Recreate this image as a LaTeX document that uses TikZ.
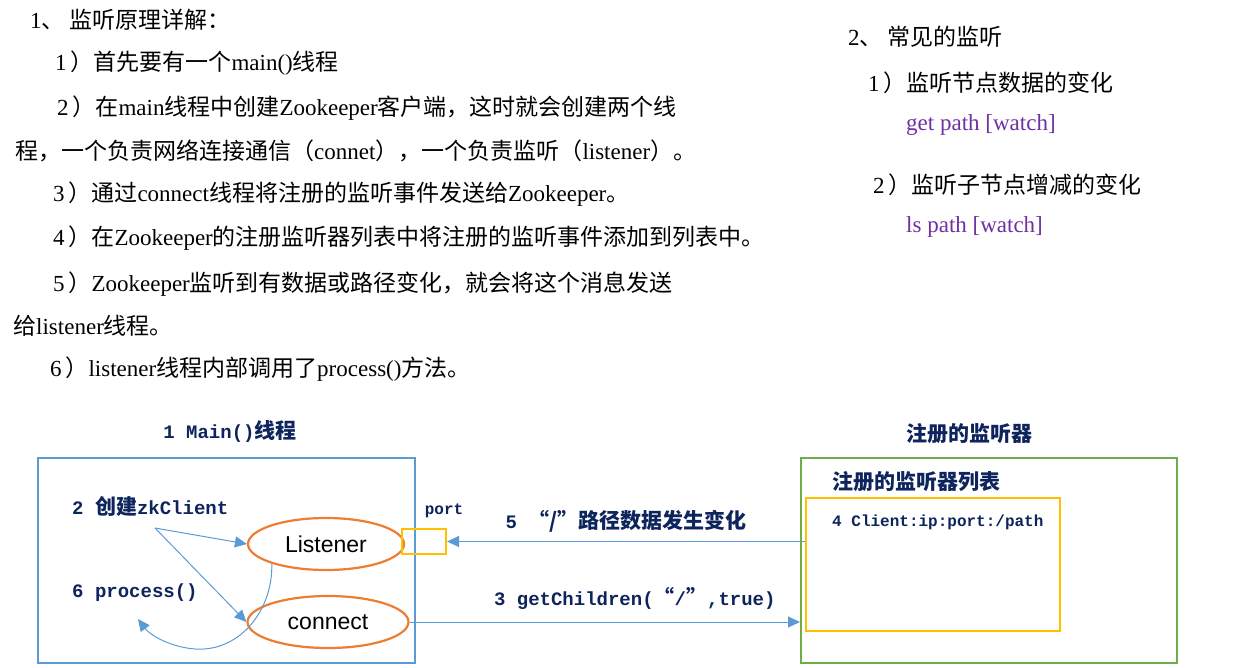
\documentclass[tikz,border=0pt]{standalone}
\usepackage{fontspec}
\setmainfont{Liberation Serif}
\newfontfamily\cjk{Noto Sans CJK SC}
\newfontfamily\monof{Liberation Mono}
\newfontfamily\arialf{Liberation Sans}
\usetikzlibrary{arrows.meta,shapes.geometric}
\definecolor{boxblue}{RGB}{91,155,213}
\definecolor{arrblue}{RGB}{91,155,213}
\definecolor{ellorange}{RGB}{237,125,49}
\definecolor{portyellow}{RGB}{255,192,0}
\definecolor{boxgreen}{RGB}{112,173,71}
\definecolor{navy}{RGB}{14,36,92}
\definecolor{purp}{RGB}{112,48,160}
\newcommand\zh[1]{{\cjk #1}}
\newcommand\dz[1]{{\cjk\bfseries\fontsize{21}{24}\selectfont #1}}
\tikzset{
  txt/.style={anchor=west, inner sep=0pt, font=\fontsize{23}{27}\selectfont},
  cmd/.style={txt, text=purp},
  dlab/.style={inner sep=0pt, text=navy, font=\monof\bfseries\fontsize{19}{22}\selectfont},
  frame/.style={draw, line width=2pt, anchor=north west, inner sep=0pt},
  oval/.style={ellipse, draw=ellorange, line width=2.2pt, inner sep=0pt,
    minimum width=156pt, minimum height=52pt, font=\arialf\fontsize{23}{27}\selectfont},
  arr/.style={draw=arrblue, line width=1pt, -{Triangle[length=12pt,width=11pt]}},
}
\begin{document}
\begin{tikzpicture}[x=1pt,y=-1pt]
\useasboundingbox (0,0) rectangle (1256,667);
% top-left text
\node[txt] (l0) at (30,20) {1\zh{、 监听原理详解：}};
\node[txt] (l1) at (55,63) {1\,\zh{）首先要有一个}main()\zh{线程}};
\node[txt] (l2) at (57,108) {2\,\zh{）在}main\zh{线程中创建}Zookeeper\zh{客户端，这时就会创建两个线}};
\node[txt] (l3) at (15,151) {\zh{程，一个负责网络连接通信（}connet\zh{），一个负责监听（}listener\zh{）。}};
\node[txt] (l4) at (53,194) {3\,\zh{）通过}connect\zh{线程将注册的监听事件发送给}Zookeeper\zh{。}};
\node[txt] (l5) at (53,238) {4\,\zh{）在}Zookeeper\zh{的注册监听器列表中将注册的监听事件添加到列表中。}};
\node[txt] (l6) at (53,284) {5\,\zh{）}Zookeeper\zh{监听到有数据或路径变化，就会将这个消息发送}};
\node[txt] (l7) at (13,326) {\zh{给}listener\zh{线程。}};
\node[txt] (l8) at (50,369) {6\,\zh{）}listener\zh{线程内部调用了}process()\zh{方法。}};
% top-right text
\node[txt] (r0) at (848,37) {2\zh{、 常见的监听}};
\node[txt] (r1) at (868,83) {1\,\zh{）监听节点数据的变化}};
\node[cmd] (r2) at (906,125) {get path [watch]};
\node[txt] (r3) at (873,185) {2\,\zh{）监听子节点增减的变化}};
\node[cmd] (r4) at (906,227) {ls path [watch]};
% diagram: left
\node[dlab] (maint) at (230,431) {1 Main()\dz{线程}};
\node[frame, draw=boxblue, minimum width=377pt, minimum height=205pt] (mainbox) at (37,457) {};
\node[dlab, anchor=west] (zkl) at (72,506) {2 \dz{创建}zkClient};
\node[dlab, anchor=west] (prl) at (72,593) {6 process()};
\node[oval] (lis) at (326,544) {Listener};
\node[oval, minimum width=161pt] (con) at (328,622) {connect};
\node[draw=portyellow, line width=2pt, inner sep=0pt, minimum width=44pt, minimum height=25pt] (port) at (424,541.5) {};
\node[dlab, font=\monof\bfseries\fontsize{16}{19}\selectfont] (portl) at (444,511) {port};
% diagram: right
\node[dlab] (regt) at (969,434) {\dz{注册的监听器}};
\node[frame, draw=boxgreen, minimum width=376pt, minimum height=205pt] (regbox) at (800,457) {};
\node[dlab, anchor=west] (listt) at (832,482) {\dz{注册的监听器列表}};
\node[frame, draw=portyellow, minimum width=254pt, minimum height=133pt] (listbox) at (805,497) {};
\node[dlab, anchor=west, font=\monof\bfseries\fontsize{16}{19}\selectfont] (entry) at (832,522) {4 Client:ip:port:/path};
% connectors
\coordinate (zk) at (155,528);
\draw[arr] (zk) -- (lis.west);
\draw[arr] (zk) -- (con.west);
\coordinate (pend) at (138,619);
\draw[arr] (lis.200) .. controls (273,610) and (240,652) .. (195,649)
  .. controls (170,647) and (150,635) .. (pend);
\draw[arr] (listbox.west |- port.east) -- (port.east)
  node[dlab, midway, above=9pt, xshift=0pt] (l5lab) {5 \dz{“/”路径数据发生变化}};
\draw[arr] (con.east) -- (regbox.west |- con.east)
  node[dlab, midway, above=12pt, xshift=30pt] (l3lab) {3 getChildren(\dz{“}/\dz{”},true)};
\end{tikzpicture}
\end{document}
